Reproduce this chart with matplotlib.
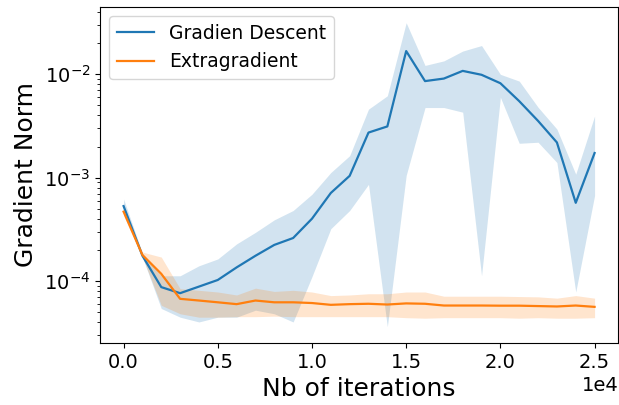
import numpy as np
import matplotlib
matplotlib.use("Agg")
import matplotlib.pyplot as plt

iterations = np.arange(0, 26000, 1000)

gd_mean = [5.3e-4, 1.75e-4, 8.7e-5, 7.6e-5, 8.8e-5, 1.02e-4, 1.35e-4, 1.75e-4, 2.23e-4, 2.6e-4,
           4.0e-4, 7.1e-4, 1.04e-3, 2.73e-3, 3.13e-3, 1.68e-2, 8.6e-3, 9.1e-3, 1.08e-2, 9.9e-3,
           8.2e-3, 5.5e-3, 3.54e-3, 2.19e-3, 5.7e-4, 1.73e-3]
gd_upper = [6.2e-4, 1.85e-4, 1.12e-4, 1.12e-4, 1.4e-4, 1.63e-4, 2.28e-4, 2.95e-4, 3.9e-4, 4.8e-4,
            6.9e-4, 1.12e-3, 1.63e-3, 4.6e-3, 6.2e-3, 3.16e-2, 1.22e-2, 1.35e-2, 1.68e-2, 1.9e-2,
            1.0e-2, 8.6e-3, 4.8e-3, 2.95e-3, 1.08e-3, 3.95e-3]
gd_lower = [4.6e-4, 1.7e-4, 5.4e-5, 4.45e-5, 4.0e-5, 4.45e-5, 4.45e-5, 5.2e-5, 4.8e-5, 4.0e-5,
            1.1e-4, 3.2e-4, 4.8e-4, 8.6e-4, 3.6e-5, 1.05e-3, 4.77e-3, 4.77e-3, 4.3e-3, 1.12e-4,
            6.0e-3, 2.15e-3, 2.2e-3, 1.4e-3, 7.8e-5, 6.7e-4]

eg_mean = [4.68e-4, 1.78e-4, 1.17e-4, 6.7e-5, 6.45e-5, 6.2e-5, 5.95e-5, 6.45e-5, 6.2e-5, 6.2e-5,
           6.1e-5, 5.86e-5, 5.95e-5, 6.0e-5, 5.9e-5, 6.05e-5, 6.0e-5, 5.77e-5, 5.77e-5, 5.77e-5,
           5.75e-5, 5.75e-5, 5.7e-5, 5.65e-5, 5.77e-5, 5.6e-5]
eg_upper = [5.0e-4, 1.9e-4, 1.7e-4, 8.4e-5, 8.1e-5, 7.8e-5, 7.3e-5, 8.5e-5, 7.9e-5, 8.1e-5,
            7.8e-5, 7.2e-5, 7.3e-5, 7.5e-5, 7.5e-5, 7.8e-5, 7.8e-5, 7.1e-5, 7.1e-5, 7.1e-5,
            7.1e-5, 7.05e-5, 7.0e-5, 6.8e-5, 7.2e-5, 6.8e-5]
eg_lower = [4.3e-4, 1.7e-4, 5.8e-5, 4.8e-5, 4.45e-5, 4.45e-5, 4.5e-5, 4.5e-5, 4.55e-5, 4.5e-5,
            4.5e-5, 4.5e-5, 4.5e-5, 4.5e-5, 4.5e-5, 4.4e-5, 4.35e-5, 4.4e-5, 4.4e-5, 4.4e-5,
            4.4e-5, 4.35e-5, 4.4e-5, 4.35e-5, 4.35e-5, 4.4e-5]

fig = plt.figure(figsize=(6.19, 4.05), dpi=100)
ax = fig.add_axes([0.1616, 0.153, 0.837, 0.830])

ax.plot(iterations, gd_mean, color="#1f77b4", lw=1.6, label="Gradien Descent")
ax.fill_between(iterations, gd_lower, gd_upper, color="#1f77b4", alpha=0.2, lw=0)
ax.plot(iterations, eg_mean, color="#ff7f0e", lw=1.6, label="Extragradient")
ax.fill_between(iterations, eg_lower, eg_upper, color="#ff7f0e", alpha=0.2, lw=0)

ax.set_yscale("log")
ax.set_ylim(2.5e-5, 4.5e-2)
ax.ticklabel_format(style="sci", axis="x", scilimits=(0, 0))
ax.tick_params(labelsize=14)
ax.xaxis.get_offset_text().set_fontsize(14)
ax.set_xlabel("Nb of iterations", fontsize=18)
ax.set_ylabel("Gradient Norm", fontsize=18)
ax.legend(loc="upper left", fontsize=13.5)

fig.savefig("out.png", dpi=100)
